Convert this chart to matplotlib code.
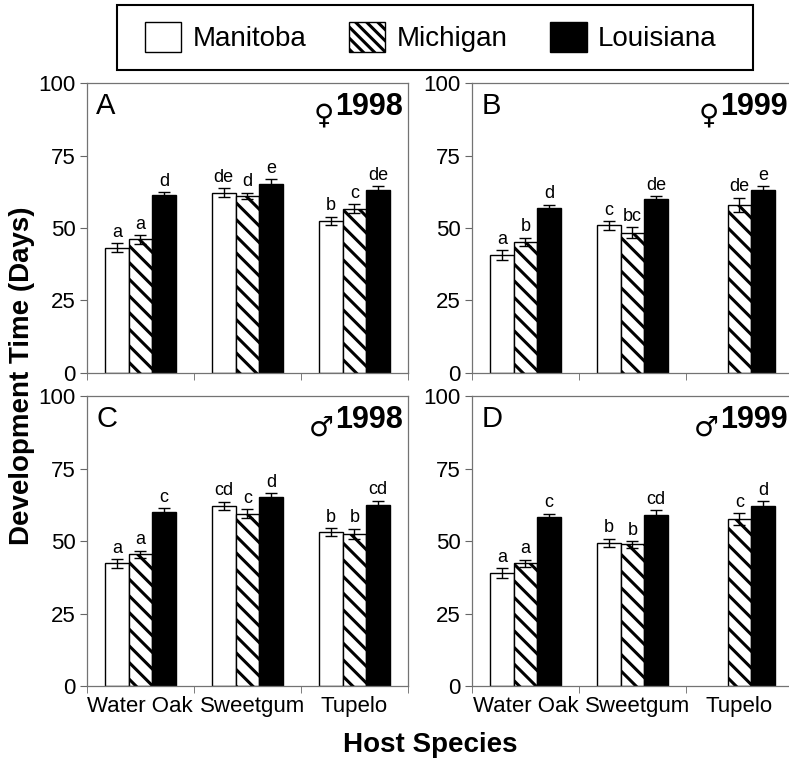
import numpy as np
import matplotlib.pyplot as plt
from matplotlib.patches import Patch, Rectangle
from matplotlib.transforms import ScaledTranslation

plt.rcParams['font.family'] = ['Liberation Sans', 'DejaVu Sans']
plt.rcParams['hatch.linewidth'] = 2.2

hosts = ['Water Oak', 'Sweetgum', 'Tupelo']
populations = ['Manitoba', 'Michigan', 'Louisiana']
pop_colors = ['white', 'white', 'black']
pop_hatch = [None, '\\\\', None]

# rows = host, columns = population (Manitoba, Michigan, Louisiana)
means_a = [[43.2, 46.1, 61.3], [62.2, 61.1, 65.4], [52.4, 56.7, 63.1]]
errs_a = [[1.6, 1.5, 1.2], [1.5, 1.2, 1.5], [1.5, 1.5, 1.5]]
letters_a = [['a', 'a', 'd'], ['de', 'd', 'e'], ['b', 'c', 'de']]

means_b = [[40.6, 45.2, 56.9], [51.0, 48.4, 59.9], [np.nan, 58.1, 63.0]]
errs_b = [[1.7, 1.5, 1.2], [1.5, 2.0, 1.2], [np.nan, 2.4, 1.6]]
letters_b = [['a', 'b', 'd'], ['c', 'bc', 'de'], ['', 'de', 'e']]

means_c = [[42.3, 45.5, 59.9], [62.1, 59.5, 65.1], [53.2, 52.6, 62.5]]
errs_c = [[1.5, 1.2, 1.5], [1.5, 1.5, 1.5], [1.3, 1.7, 1.5]]
letters_c = [['a', 'a', 'c'], ['cd', 'c', 'd'], ['b', 'b', 'cd']]

means_d = [[39.1, 42.4, 58.2], [49.4, 48.9, 59.1], [np.nan, 57.7, 62.2]]
errs_d = [[1.7, 1.2, 1.3], [1.5, 1.2, 1.5], [np.nan, 2.0, 1.5]]
letters_d = [['a', 'a', 'c'], ['b', 'b', 'cd'], ['', 'c', 'd']]

fig = plt.figure(figsize=(7.89, 7.59), dpi=100)


def draw_panel(rect, means, errs, letters, tag, sex, year, show_x):
    ax = fig.add_axes(rect)
    x = np.arange(len(hosts))
    w = 0.22
    for j in range(len(populations)):
        vals = np.array([row[j] for row in means], dtype=float)
        e = np.array([row[j] for row in errs], dtype=float)
        xs = x + (j - 1) * w
        ax.bar(xs, vals, w, color=pop_colors[j], hatch=pop_hatch[j],
               edgecolor='black', linewidth=1, zorder=2)
        ax.errorbar(xs, vals, yerr=e, fmt='none', ecolor='black',
                    elinewidth=1, capsize=4, capthick=1, zorder=3)
        for i in range(len(hosts)):
            if letters[i][j]:
                ax.text(xs[i], vals[i] + e[i] + 0.8, letters[i][j],
                        ha='center', va='bottom', fontsize=13)
    ax.set_xlim(-0.5, 2.5)
    ax.set_ylim(0, 100)
    ax.set_yticks([0, 25, 50, 75, 100])
    ax.set_xticks(x)
    ax.set_xticklabels(hosts if show_x else [])
    ax.set_xticks([-0.5, 0.5, 1.5, 2.5], minor=True)
    ax.tick_params(axis='x', which='major', length=0, labelsize=16, pad=7)
    ax.tick_params(axis='x', which='minor', length=5, direction='out', color='0.4')
    ax.tick_params(axis='y', length=5, labelsize=16, color='0.4', pad=3)
    if show_x:
        # middle label sits a little right of centre in the original
        lbl = ax.get_xticklabels()[1]
        lbl.set_transform(lbl.get_transform() + ScaledTranslation(0.05, 0, fig.dpi_scale_trans))
    for sp in ax.spines.values():
        sp.set_color('0.45')
        sp.set_linewidth(0.9)
    ax.text(0.03, 0.97, tag, transform=ax.transAxes, fontsize=21,
            ha='left', va='top')
    yt = ax.text(0.984, 0.97, year, transform=ax.transAxes, fontsize=22,
                 weight='bold', ha='right', va='top')
    ax.annotate(sex, xy=(0, 0), xycoords=yt, xytext=(-1, -5),
                textcoords='offset points', ha='right', va='bottom',
                fontsize=20, family='DejaVu Sans')
    return ax


draw_panel([0.110, 0.509, 0.407, 0.381], means_a, errs_a, letters_a, 'A', '♀', '1998', False)
draw_panel([0.598, 0.509, 0.407, 0.381], means_b, errs_b, letters_b, 'B', '♀', '1999', False)
draw_panel([0.110, 0.096, 0.407, 0.382], means_c, errs_c, letters_c, 'C', '♂', '1998', True)
draw_panel([0.598, 0.096, 0.407, 0.382], means_d, errs_d, letters_d, 'D', '♂', '1999', True)

# legend box drawn separately so its padding can be wider than tall
fig.patches.append(Rectangle((0.148, 0.908), 0.806, 0.0856, transform=fig.transFigure,
                             facecolor='white', edgecolor='black', linewidth=1.5,
                             zorder=0))
handles = [Patch(facecolor='white', edgecolor='black', linewidth=1),
           Patch(facecolor='white', edgecolor='black', hatch='\\\\\\', linewidth=1),
           Patch(facecolor='black', edgecolor='black', linewidth=1)]
fig.legend(handles, populations, loc='center', bbox_to_anchor=(0.546, 0.951),
           ncol=3, fontsize=20, frameon=False,
           handlelength=1.3, handleheight=1.26, handletextpad=0.4,
           columnspacing=1.55, borderpad=0.2)

fig.text(0.028, 0.505, 'Development Time (Days)', rotation=90, fontsize=20,
         weight='bold', ha='center', va='center')
fig.text(0.545, 0.018, 'Host Species', fontsize=20, weight='bold',
         ha='center', va='center')

fig.savefig('out.png', dpi=100)
